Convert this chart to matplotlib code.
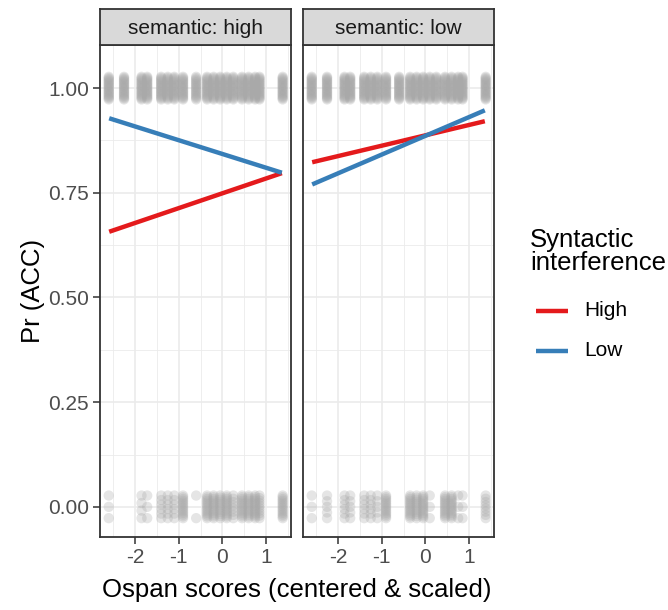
import numpy as np
import matplotlib
matplotlib.use("Agg")
import matplotlib.pyplot as plt
from matplotlib.lines import Line2D

plt.rcParams['font.family'] = ['Liberation Sans', 'DejaVu Sans']

# ---- data ----
panels = ["semantic: high", "semantic: low"]
ospan = [-2.6, -2.25, -1.85, -1.72, -1.4, -1.25, -1.1, -0.9, -0.6, -0.35,
         -0.2, -0.05, 0.1, 0.25, 0.45, 0.6, 0.75, 0.85, 1.38]
correct_high = [20, 20, 20, 20, 20, 20, 20, 20, 18, 20, 20, 20, 20, 20, 20, 20, 20, 20, 20]
errors_high = [3, 0, 4, 3, 6, 6, 6, 14, 2, 14, 14, 12, 14, 8, 14, 14, 14, 10, 14]
correct_low = [20, 20, 20, 20, 20, 20, 20, 20, 20, 20, 20, 20, 20, 20, 20, 20, 20, 20, 20]
errors_low = [3, 5, 6, 5, 6, 6, 5, 14, 0, 14, 12, 14, 3, 0, 14, 14, 3, 3, 8]

line_x = [-2.59, 1.36]
high_high = [0.657, 0.797]   # semantic high, syntactic High
high_low = [0.928, 0.798]    # semantic high, syntactic Low
low_high = [0.823, 0.921]
low_low = [0.770, 0.947]

series_names = ["High", "Low"]
colors = ["#E41A1C", "#377EB8"]

W, H = 668, 610
fig = plt.figure(figsize=(W / 100, H / 100), dpi=100)

def fx(px):
    return px / W

def fy(py):
    return 1 - py / H

panel_px = [(100, 291), (303, 494)]
top, bot = 45, 537
strip_top = 9

data = [
    (correct_high, errors_high, [high_high, high_low]),
    (correct_low, errors_low, [low_high, low_low]),
]

grid_c = "#EBEBEB"
border_c = "#333333"
tick_c = "#4D4D4D"

for i, ((l, r), name, (corr, err, lines)) in enumerate(zip(panel_px, panels, data)):
    ax = fig.add_axes([fx(l), fy(bot), fx(r) - fx(l), fy(top) - fy(bot)])
    ax.set_xlim(-2.80, 1.57)
    ax.set_ylim(-0.072, 1.103)
    ax.set_xticks([-2, -1, 0, 1])
    ax.set_xticks([-2.5, -1.5, -0.5, 0.5, 1.5], minor=True)
    ax.set_yticks([0, 0.25, 0.5, 0.75, 1.0])
    ax.set_yticks([0.125, 0.375, 0.625, 0.875], minor=True)
    ax.grid(True, which="major", color=grid_c, lw=1.2, zorder=0)
    ax.grid(True, which="minor", color=grid_c, lw=0.6, zorder=0)
    ax.set_axisbelow(True)
    for s in ax.spines.values():
        s.set_color(border_c)
        s.set_linewidth(1.3)
    ax.tick_params(which="major", length=5, width=1.1, color=border_c,
                   labelsize=15, labelcolor=tick_c, pad=3)
    ax.tick_params(which="minor", length=0)
    ax.set_xticklabels(["-2", "-1", "0", "1"])
    if i == 0:
        ax.set_yticklabels(["0.00", "0.25", "0.50", "0.75", "1.00"])
    else:
        ax.tick_params(axis="y", which="major", length=0, labelleft=False)

    # jittered points (even vertical spread within each column)
    for x, nc, ne in zip(ospan, corr, err):
        for yv, n in ((1.0, nc), (0.0, ne)):
            if n == 0:
                continue
            ys = yv + np.linspace(-0.027, 0.027, n) if n > 1 else np.array([yv])
            ax.scatter(np.full(n, x), ys, s=55, color="#A9A9A9", alpha=0.3,
                       edgecolors="none", zorder=2)

    for vals, c in zip(lines, colors):
        ax.plot(line_x, vals, color=c, lw=3.2, solid_capstyle="butt", zorder=3)

    # strip
    sax = fig.add_axes([fx(l), fy(top), fx(r) - fx(l), fy(strip_top) - fy(top)])
    sax.set_facecolor("#D9D9D9")
    sax.set_xticks([])
    sax.set_yticks([])
    for s in sax.spines.values():
        s.set_color(border_c)
        s.set_linewidth(1.3)
    sax.text(0.5, 0.47, name, ha="center", va="center", fontsize=15,
             color="#1A1A1A", transform=sax.transAxes)

# axis titles
fig.text(fx((100 + 494) / 2), fy(597), "Ospan scores (centered & scaled)",
         ha="center", va="baseline", fontsize=18.5, color="black")
fig.text(fx(33), fy((top + bot) / 2), "Pr (ACC)", rotation=90,
         ha="center", va="center", fontsize=18.5, color="black")

# legend
fig.text(fx(530), fy(228), "Syntactic\ninterference", ha="left", va="top",
         fontsize=18.5, linespacing=0.95, color="black")
for yv, c, n in zip([311, 351], colors, series_names):
    fig.add_artist(Line2D([fx(536), fx(568)], [fy(yv), fy(yv)], color=c, lw=3.2,
                          solid_capstyle="butt"))
    fig.text(fx(584), fy(yv), n, ha="left", va="center", fontsize=15, color="black")

fig.savefig("out.png", dpi=100)
